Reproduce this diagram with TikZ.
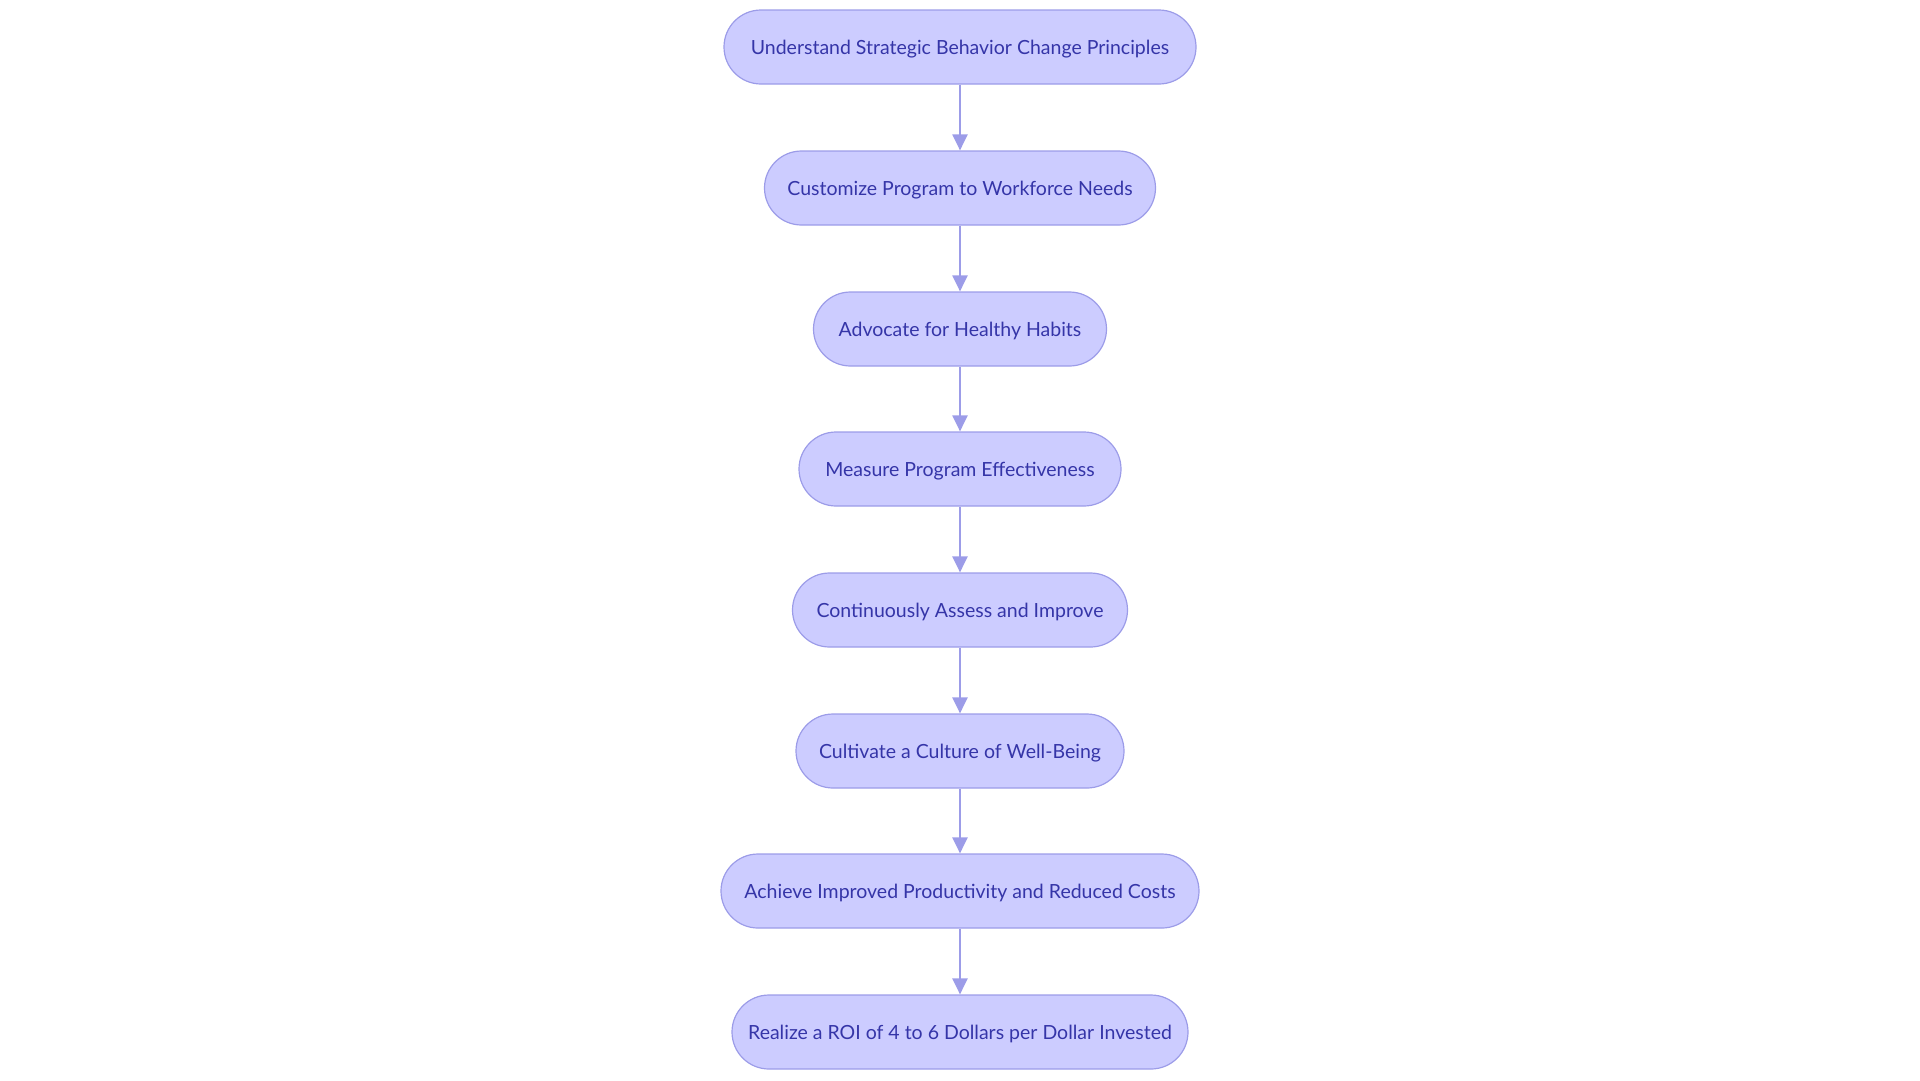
\documentclass[tikz,border=0pt]{standalone}
\usepackage{fontspec}
\setmainfont{Lato}
\usetikzlibrary{arrows.meta}
\definecolor{nodefill}{HTML}{CCCCFF}
\definecolor{nodeborder}{HTML}{9C9CE8}
\definecolor{nodetext}{HTML}{3535A8}
\definecolor{linkcol}{HTML}{9C9CE8}
\tikzset{
  stepbox/.style={draw=nodeborder, fill=nodefill, line width=1.2pt, rounded corners=37pt,
    minimum height=74pt, inner sep=0pt, text height=19pt, text depth=4pt, text=nodetext,
    font=\fontsize{19.5}{24}\selectfont},
  link/.style={draw=linkcol, line width=2.2pt, -{Triangle[length=16pt,width=15pt]}}
}
\begin{document}
\begin{tikzpicture}[x=1pt,y=-1pt]
\useasboundingbox (0,0) rectangle (1920,1080);
\node[stepbox, minimum width=472pt] (n1) at (960,47) {Understand Strategic Behavior Change Principles};
\node[stepbox, minimum width=391pt] (n2) at (960,188) {Customize Program to Workforce Needs};
\node[stepbox, minimum width=293pt] (n3) at (960,329) {Advocate for Healthy Habits};
\node[stepbox, minimum width=322pt] (n4) at (960,469) {Measure Program Effectiveness};
\node[stepbox, minimum width=335pt] (n5) at (960,610) {Continuously Assess and Improve};
\node[stepbox, minimum width=328pt] (n6) at (960,751) {Cultivate a Culture of Well-Being};
\node[stepbox, minimum width=478pt] (n7) at (960,891) {Achieve Improved Productivity and Reduced Costs};
\node[stepbox, minimum width=456pt] (n8) at (960,1032) {Realize a ROI of 4 to 6 Dollars per Dollar Invested};
\foreach \a/\b in {n1/n2,n2/n3,n3/n4,n4/n5,n5/n6,n6/n7,n7/n8}
  \draw[link] (\a.south) -- (\b.north);
\end{tikzpicture}
\end{document}
